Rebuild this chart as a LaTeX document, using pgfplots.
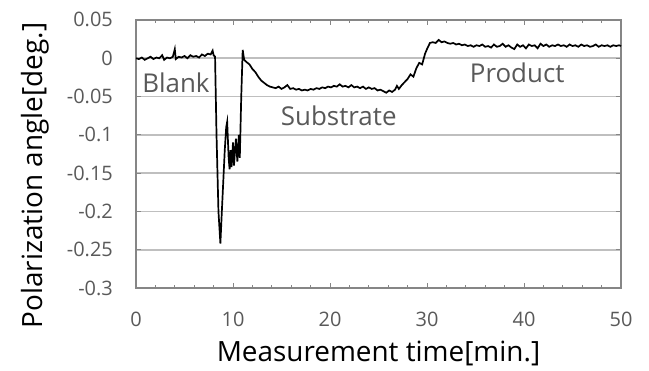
\documentclass[border=0pt]{standalone}
\usepackage{pgfplots}
\pgfplotsset{compat=1.18}
\usepackage{fontspec}
\setmainfont{Open Sans}
\definecolor{tickgray}{HTML}{595959}
\definecolor{gridgray}{HTML}{BFBFBF}
\definecolor{framegray}{HTML}{868686}
\begin{document}
\begin{tikzpicture}[x=1bp,y=1bp]
\useasboundingbox (0,0) rectangle (649,370);
\begin{axis}[
  at={(136bp,82bp)}, anchor=south west,
  scale only axis, width=485bp, height=268bp,
  xmin=0, xmax=50, ymin=-0.3, ymax=0.05,
  xtick={0,10,...,50}, minor xtick={2,4,...,48},
  ytick={-0.3,-0.25,...,0.05},
  yticklabels={-0.3,-0.25,-0.2,-0.15,-0.1,-0.05,0,0.05},
  tick align=inside,
  major tick length=5bp, minor tick length=3.5bp,
  every tick/.style={framegray, line width=1bp},
  ymajorgrids,
  grid style={gridgray, line width=1.6bp},
  axis line style={framegray, line width=1.4bp},
  ticklabel style={tickgray, font=\fontsize{20}{22}\selectfont, inner sep=0pt},
  /pgf/number format/assume math mode=true,
  xticklabel style={anchor=base, yshift=-38.7bp},
  yticklabel style={anchor=base east, xshift=-23bp, yshift=-7bp},
  xlabel={Measurement time[min.]},
  ylabel={Polarization angle[deg.]},
  label style={black, font=\fontsize{28}{30}\selectfont, inner sep=0pt},
  xlabel style={at={(axis description cs:0.5,0)}, anchor=base, yshift=-73bp},
  ylabel style={at={(axis description cs:-0.1938,0.42)}, anchor=base},
  clip=false,
]
\addplot[black, line width=1.7bp] coordinates {
(0,0.000)(0.3,-0.001)(0.6,0.001)(0.9,-0.002)(1.2,0.000)(1.5,0.002)(1.8,-0.001)
(2.1,0.001)(2.4,0.000)(2.7,0.004)(2.9,-0.002)(3.2,0.001)(3.5,0.000)(3.8,0.002)
(4.0,0.012)(4.1,-0.001)(4.4,0.002)(4.7,0.001)(5.0,0.003)(5.3,0.000)(5.6,0.004)
(5.9,0.002)(6.2,0.003)(6.5,0.001)(6.8,0.005)(7.1,0.003)(7.4,0.006)(7.7,0.005)
(7.9,0.010)(8.0,0.004)(8.15,0.002)(8.3,-0.10)(8.5,-0.20)(8.7,-0.242)(8.85,-0.20)
(9.0,-0.16)(9.15,-0.12)(9.3,-0.09)(9.4,-0.083)(9.55,-0.13)(9.65,-0.145)(9.75,-0.12)
(9.85,-0.142)(10.0,-0.11)(10.1,-0.14)(10.3,-0.105)(10.45,-0.135)(10.6,-0.10)
(10.7,-0.13)(10.85,-0.05)(11.0,0.011)(11.15,-0.002)(11.4,-0.005)(11.7,-0.008)
(12.0,-0.014)(12.3,-0.018)(12.6,-0.024)(12.9,-0.029)(13.2,-0.032)(13.5,-0.035)
(13.8,-0.037)(14.1,-0.038)(14.4,-0.039)(14.7,-0.037)(15.0,-0.040)(15.3,-0.038)
(15.6,-0.035)(15.9,-0.040)(16.2,-0.039)(16.5,-0.041)(16.8,-0.040)(17.1,-0.042)
(17.4,-0.041)(17.7,-0.042)(18.0,-0.040)(18.3,-0.041)(18.6,-0.039)(18.9,-0.040)
(19.2,-0.038)(19.5,-0.039)(19.8,-0.037)(20.1,-0.038)(20.4,-0.036)(20.7,-0.037)
(21.0,-0.034)(21.3,-0.037)(21.6,-0.036)(21.9,-0.038)(22.2,-0.035)(22.5,-0.038)
(22.8,-0.037)(23.1,-0.039)(23.4,-0.037)(23.7,-0.040)(24.0,-0.038)(24.3,-0.040)
(24.6,-0.039)(24.9,-0.042)(25.2,-0.041)(25.5,-0.043)(25.8,-0.045)(26.1,-0.042)
(26.4,-0.044)(26.7,-0.041)(26.9,-0.036)(27.1,-0.040)(27.4,-0.035)(27.7,-0.031)
(28.0,-0.027)(28.3,-0.021)(28.6,-0.024)(28.9,-0.013)(29.2,-0.006)(29.5,-0.008)
(29.8,0.006)(30.0,0.012)(30.3,0.020)(30.6,0.021)(30.9,0.020)(31.2,0.024)
(31.5,0.021)(31.8,0.022)(32.1,0.020)(32.4,0.019)(32.7,0.020)(33.0,0.018)
(33.3,0.019)(33.6,0.017)(33.9,0.018)(34.2,0.016)(34.5,0.017)(34.8,0.015)
(35.1,0.017)(35.4,0.016)(35.7,0.018)(36.0,0.015)(36.3,0.016)(36.6,0.014)
(36.9,0.018)(37.2,0.015)(37.5,0.016)(37.8,0.019)(38.1,0.015)(38.4,0.017)
(38.7,0.014)(39.0,0.012)(39.3,0.018)(39.6,0.015)(39.9,0.017)(40.2,0.013)
(40.5,0.018)(40.8,0.016)(41.1,0.017)(41.4,0.013)(41.7,0.019)(42.0,0.016)
(42.3,0.018)(42.6,0.015)(42.9,0.017)(43.2,0.016)(43.5,0.018)(43.8,0.016)
(44.1,0.017)(44.4,0.015)(44.7,0.018)(45.0,0.016)(45.3,0.017)(45.6,0.015)
(45.9,0.018)(46.2,0.016)(46.5,0.017)(46.8,0.015)(47.1,0.016)(47.4,0.018)
(47.7,0.015)(48.0,0.017)(48.3,0.016)(48.6,0.017)(48.9,0.015)(49.2,0.017)
(49.5,0.016)(49.8,0.017)(50.0,0.016)
};
\node[tickgray, anchor=base, inner sep=0pt, font=\fontsize{26}{28}\selectfont] at (axis cs:4.12,-0.0453) {Blank};
\node[tickgray, anchor=base, inner sep=0pt, font=\fontsize{26}{28}\selectfont] at (axis cs:20.9,-0.0884) {Substrate};
\node[tickgray, anchor=base, inner sep=0pt, font=\fontsize{26}{28}\selectfont] at (axis cs:39.3,-0.031) {Product};
\end{axis}
\end{tikzpicture}
\end{document}
